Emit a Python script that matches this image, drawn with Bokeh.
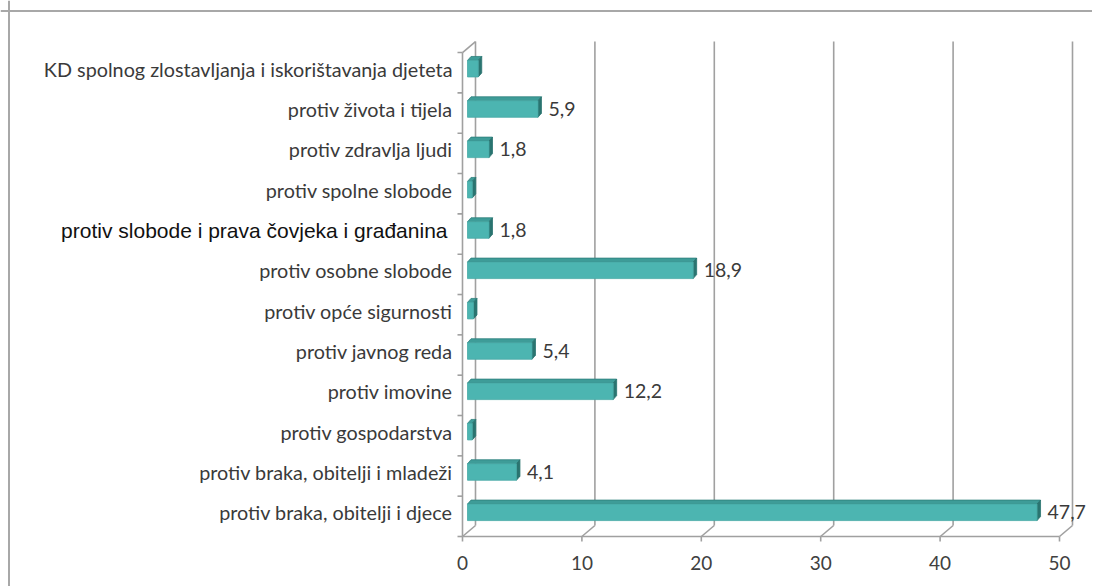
from bokeh.plotting import figure
from bokeh.models import Range1d, Span
from bokeh.core.properties import value
from bokeh.embed import file_html
from bokeh.resources import INLINE

# ---- data (top to bottom as in the picture) ----
categories = [
    "KD spolnog zlostavljanja i iskorištavanja djeteta",
    "protiv života i tijela",
    "protiv zdravlja ljudi",
    "protiv spolne slobode",
    "protiv slobode i prava čovjeka i građanina",
    "protiv osobne slobode",
    "protiv opće sigurnosti",
    "protiv javnog reda",
    "protiv imovine",
    "protiv gospodarstva",
    "protiv braka, obitelji i mladeži",
    "protiv braka, obitelji i djece",
]
values = [0.9, 5.9, 1.8, 0.4, 1.8, 18.9, 0.5, 5.4, 12.2, 0.4, 4.1, 47.7]
x_ticks = [0, 10, 20, 30, 40, 50]
arial_label = "protiv slobode i prava čovjeka i građanina"

# ---- layout (pixels) ----
W, H = 1092, 586
x0_px = 462.0          # front x=0 position from left
floor_top_px = 536.0   # front floor from top
floor_px = H - floor_top_px
SX = 11.94             # px per unit
SY = 40.33             # px per category
DX, DY = 13.0, 11.0    # wall depth
BX, BY = 5.0, 4.0      # bar front-plane shift
BH = 16.5              # bar front height
BDX, BDY = 3.5, 4.0    # bar depth

n = len(categories)
ux = lambda px: px / SX
uy = lambda px: px / SY

p = figure(width=W, height=H, output_backend="svg", toolbar_location=None,
           min_border=0, min_border_left=0, min_border_right=0,
           min_border_top=0, min_border_bottom=0)
p.x_range = Range1d(-ux(x0_px), ux(W - x0_px))
p.y_range = Range1d(-0.5 - uy(floor_px), -0.5 + uy(H - floor_px))
p.axis.visible = False
p.xgrid.visible = False
p.ygrid.visible = False
p.outline_line_color = None
p.background_fill_color = "white"
p.border_fill_color = "white"

# outer border (top and left only are within the window)
p.add_layout(Span(location=p.y_range.end - uy(10.5), dimension="width",
                  line_color="#a8a8a8", line_width=2))
p.add_layout(Span(location=p.x_range.start + ux(8.5), dimension="height",
                  line_color="#a8a8a8", line_width=2))

grid_col = "#a0a0a0"
ybot = -0.5
ytop = n - 0.5
ddx, ddy = ux(DX), uy(DY)

# back wall gridlines + floor diagonals
gx0, gy0, gx1, gy1 = [], [], [], []
for t in x_ticks:
    if t == 0:
        continue
    gx0 += [t + ddx, t]
    gy0 += [ybot + ddy, ybot]
    gx1 += [t + ddx, t + ddx]
    gy1 += [ytop + ddy, ybot + ddy]
# left walls
gx0 += [ddx, 0, 0, 0]
gy0 += [ybot + ddy, ybot, ytop, ybot]
gx1 += [ddx, 0, ddx, ddx]
gy1 += [ytop + ddy, ytop, ytop + ddy, ybot + ddy]
# front floor edge
gx0.append(0); gy0.append(ybot); gx1.append(x_ticks[-1]); gy1.append(ybot)
p.segment(gx0, gy0, gx1, gy1, line_color=grid_col, line_width=1.6)

# ticks
tk = [k - 0.5 for k in range(n + 1)]
p.segment([0] * len(tk), tk, [-ux(5)] * len(tk), tk, line_color=grid_col, line_width=1.6)
p.segment(x_ticks, [ybot] * len(x_ticks), x_ticks, [ybot - uy(5)] * len(x_ticks),
          line_color=grid_col, line_width=1.6)

# tick labels
p.text(x=x_ticks, y=[ybot - uy(26)] * len(x_ticks), text=[str(t) for t in x_ticks],
       text_font=value("Lato"), text_font_size="19px", text_color="#404040",
       text_align="center", text_baseline="middle")

# bars
ys = [n - 1 - i for i in range(n)]
bx, by = ux(BX), uy(BY)
bh = uy(BH)
bdx, bdy = ux(BDX), uy(BDY)
yc = [y + by for y in ys]
left = [bx] * n
right = [bx + v for v in values]
bottom = [y - bh / 2 for y in yc]
top = [y + bh / 2 for y in yc]

top_xs = [[l, r, r + bdx, l + bdx] for l, r in zip(left, right)]
top_ys = [[t, t, t + bdy, t + bdy] for t in top]
side_xs = [[r, r + bdx, r + bdx, r] for r in right]
side_ys = [[b, b + bdy, t + bdy, t] for b, t in zip(bottom, top)]

p.patches(top_xs, top_ys, fill_color="#3e9c98", line_color="#2f807c", line_width=0.8)
p.patches(side_xs, side_ys, fill_color="#2a7470", line_color="#2a7470", line_width=0.8)
p.quad(left=left, right=right, bottom=bottom, top=top,
       fill_color="#4cb5b1", line_color="#47aaa6", line_width=0.8)

# value labels
lab_x, lab_y, lab_t = [], [], []
for v, r, y in zip(values, right, yc):
    if v >= 1:
        lab_x.append(r + bdx + ux(7))
        lab_y.append(y)
        lab_t.append(f"{v:.1f}".replace(".", ","))
p.text(x=lab_x, y=lab_y, text=lab_t, text_font=value("Lato"), text_font_size="19.5px",
       text_color="#3a3a3a", text_align="left", text_baseline="middle")

# category labels
c_norm = [(c, y) for c, y in zip(categories, yc) if c != arial_label]
c_ar = [(c, y) for c, y in zip(categories, yc) if c == arial_label]
p.text(x=[-ux(10)] * len(c_norm), y=[y for _, y in c_norm], text=[c for c, _ in c_norm],
       text_font=value("Lato"), text_font_size="19.8px", text_color="#3a3a3a",
       text_align="right", text_baseline="middle")
p.text(x=[-ux(15)] * len(c_ar), y=[y for _, y in c_ar], text=[c for c, _ in c_ar],
       text_font=value("Liberation Sans"), text_font_size="21px", text_color="#111111",
       text_align="right", text_baseline="middle")

open("out.html", "w").write(file_html(p, INLINE))
